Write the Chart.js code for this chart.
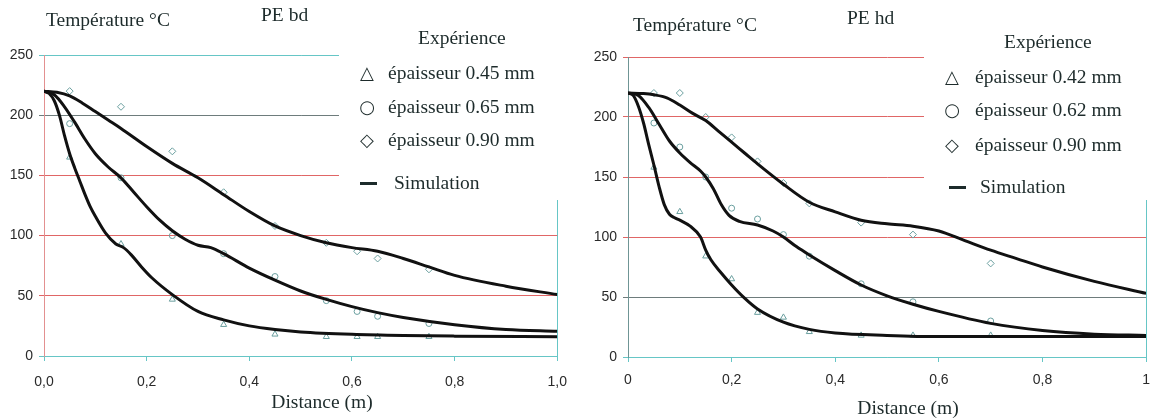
<!DOCTYPE html>
<html lang="fr">
<head>
<meta charset="utf-8">
<title>Température PE bd / PE hd</title>
<script src="https://cdn.jsdelivr.net/npm/chart.js@4.4.1/dist/chart.umd.min.js"></script>
<style>
  html, body { margin: 0; padding: 0; background: #fff; }
  body { width: 1150px; height: 419px; position: relative; overflow: hidden;
         font-family: "Liberation Serif", "DejaVu Serif", serif; color: #1d2b2b; }
  canvas { position: absolute; top: 0; }
  #chart-bd { left: 0; }
  #chart-hd { left: 580px; }
  .lbl { position: absolute; font-size: 19.5px; line-height: 22px; white-space: nowrap; }
  .center { transform: translateX(-50%); }
  .sym { position: absolute; font-family: "DejaVu Sans", sans-serif; font-size: 18px;
         line-height: 22px; width: 22px; text-align: center; }
  .dash { position: absolute; width: 17px; height: 3px; background: #1d2b2b; }
</style>
</head>
<body>
<canvas id="chart-bd" width="580" height="419"></canvas>
<canvas id="chart-hd" width="580" height="419"></canvas>

<!-- PE bd texts -->
<div class="lbl" style="left:46px;top:9px">Température °C</div>
<div class="lbl" style="left:261px;top:4px">PE bd</div>
<div class="lbl" style="left:418px;top:27px">Expérience</div>
<div class="sym" style="left:356px;top:62px">△</div>
<div class="lbl" style="left:388px;top:62px">épaisseur 0.45 mm</div>
<div class="sym" style="left:356px;top:96px">○</div>
<div class="lbl" style="left:388px;top:96px">épaisseur 0.65 mm</div>
<div class="sym" style="left:356px;top:129px">◇</div>
<div class="lbl" style="left:388px;top:129px">épaisseur 0.90 mm</div>
<div class="dash" style="left:360px;top:182px"></div>
<div class="lbl" style="left:394px;top:172px">Simulation</div>
<div class="lbl center" style="left:322px;top:391px">Distance (m)</div>

<!-- PE hd texts -->
<div class="lbl" style="left:633px;top:14px">Température °C</div>
<div class="lbl" style="left:847px;top:7px">PE hd</div>
<div class="lbl" style="left:1004px;top:31px">Expérience</div>
<div class="sym" style="left:941px;top:66px">△</div>
<div class="lbl" style="left:975px;top:66px">épaisseur 0.42 mm</div>
<div class="sym" style="left:941px;top:99px">○</div>
<div class="lbl" style="left:975px;top:99px">épaisseur 0.62 mm</div>
<div class="sym" style="left:941px;top:134px">◇</div>
<div class="lbl" style="left:975px;top:134px">épaisseur 0.90 mm</div>
<div class="dash" style="left:949px;top:186px"></div>
<div class="lbl" style="left:980px;top:176px">Simulation</div>
<div class="lbl center" style="left:908px;top:397px">Distance (m)</div>

<script>
// --- PE bd : mesures ---
var bdMesX = [0.05, 0.15, 0.25, 0.35, 0.45, 0.55, 0.61, 0.65, 0.75];
var bdMes045 = [165, 93, 47, 26, 18, 16, 16, 16, 16];
var bdMes065 = [193, 148, 100, 85, 66, 46, 37, 33, 27];
var bdMes090 = [220, 207, 170, 136, 108, 94, 87, 81, 72];

// --- PE bd : simulation ---
var bdSim045X = [0, 0.01, 0.02, 0.03, 0.04, 0.05, 0.06, 0.07, 0.08, 0.09, 0.1, 0.12, 0.14, 0.155, 0.17, 0.19, 0.21, 0.25, 0.3, 0.35, 0.4, 0.45, 0.5, 0.6, 0.7, 0.8, 1.0];
var bdSim045 = [220, 218, 212, 200, 183, 168, 156, 145, 134, 124, 116, 102, 93, 90, 84, 74, 65, 51, 37, 30, 25, 22, 20, 18, 17, 16.5, 16];
var bdSim065X = [0, 0.02, 0.04, 0.06, 0.08, 0.1, 0.125, 0.15, 0.175, 0.2, 0.225, 0.25, 0.275, 0.3, 0.325, 0.35, 0.4, 0.45, 0.5, 0.55, 0.6, 0.65, 0.7, 0.8, 0.9, 1.0];
var bdSim065 = [220, 217, 207, 194, 180, 168, 157, 148, 136, 124, 113, 104, 97, 92, 90, 85, 73, 63, 54, 47, 41, 36, 32, 26, 22, 20.5];
var bdSim090X = [0, 0.025, 0.05, 0.075, 0.1, 0.125, 0.15, 0.2, 0.25, 0.3, 0.35, 0.4, 0.45, 0.5, 0.55, 0.6, 0.65, 0.7, 0.75, 0.8, 0.9, 1.0];
var bdSim090 = [220, 219, 216, 210, 203, 196, 189, 174, 160, 148, 134, 120, 108, 100, 94, 90, 87, 81, 74, 67, 58, 51];

// --- PE hd : mesures ---
var hdMesX = [0.05, 0.1, 0.15, 0.2, 0.25, 0.3, 0.35, 0.45, 0.55, 0.7];
var hdMes042 = [158, 121, 84, 65, 37, 33, 21, 18, 18, 18];
var hdMes062 = [195, 175, 150, 124, 115, 102, 84, 61, 46, 30];
var hdMes090 = [220, 220, 200, 183, 163, 145, 128, 112, 102, 78];

// --- PE hd : simulation ---
var hdSim042X = [0, 0.01, 0.02, 0.03, 0.04, 0.05, 0.06, 0.07, 0.08, 0.09, 0.1, 0.12, 0.14, 0.15, 0.16, 0.18, 0.2, 0.225, 0.25, 0.3, 0.35, 0.4, 0.5, 0.6, 0.8, 1.0];
var hdSim042 = [220, 218, 209, 195, 177, 160, 142, 127, 119, 116, 114, 109, 100, 89, 81, 70, 60, 49, 40, 29, 23, 20, 18, 17, 17, 17];
var hdSim062X = [0, 0.02, 0.04, 0.06, 0.08, 0.1, 0.12, 0.14, 0.15, 0.165, 0.18, 0.195, 0.215, 0.25, 0.28, 0.3, 0.325, 0.35, 0.4, 0.45, 0.5, 0.55, 0.6, 0.7, 0.8, 0.9, 1.0];
var hdSim062 = [220, 218, 208, 194, 180, 170, 162, 155, 150, 140, 127, 118, 113, 110, 105, 100, 92, 85, 72, 60, 51, 44, 38, 28, 22, 19, 18];
var hdSim090X = [0, 0.03, 0.05, 0.075, 0.1, 0.125, 0.15, 0.175, 0.2, 0.225, 0.25, 0.3, 0.35, 0.4, 0.45, 0.5, 0.55, 0.6, 0.65, 0.7, 0.75, 0.8, 0.9, 1.0];
var hdSim090 = [220, 219.5, 218.5, 216, 210, 203, 197, 188, 179, 170, 161, 144, 129, 121, 114, 111, 109, 105, 97, 89, 82, 75, 63, 53];

// --- axes ---
var bdXLabels = ["0,0", "0,2", "0,4", "0,6", "0,8", "1,0"];
var hdXLabels = ["0", "0,2", "0,4", "0,6", "0,8", "1"];

var TEAL = "#66c6c6";
var RED = "#e06666";
var GRAY = "#6e7c7c";
var bdGridColors = { 0: TEAL, 50: RED, 100: RED, 150: RED, 200: GRAY, 250: TEAL };
var hdGridColors = { 0: TEAL, 50: GRAY, 100: RED, 150: RED, 200: RED, 250: RED };

// white box behind the legend, hides the top right of the grid
var legendMask = {
  id: "legendMask",
  beforeDatasetsDraw: function (chart, args, opts) {
    var ctx = chart.ctx;
    ctx.save();
    ctx.fillStyle = "#fff";
    ctx.fillRect(opts.left, 0, chart.width - opts.left, opts.bottom);
    ctx.restore();
  }
};

function toPoints(xs, ys) {
  return xs.map(function (x, i) { return { x: x, y: ys[i] }; });
}

function buildChart(canvasId, cfg) {
  var datasets = [];
  cfg.sims.forEach(function (s) {
    datasets.push({
      data: toPoints(s[0], s[1]),
      showLine: true,
      borderColor: "#111",
      borderWidth: 3,
      pointRadius: 0,
      cubicInterpolationMode: "monotone"
    });
  });
  var styles = ["triangle", "circle", "rectRot"];
  cfg.mesures.forEach(function (ys, i) {
    datasets.push({
      data: toPoints(cfg.mesX, ys),
      showLine: false,
      pointStyle: styles[i],
      pointRadius: i === 1 ? 3 : 3.5,
      pointBorderWidth: 1,
      pointBorderColor: "#6a9f9f",
      pointBackgroundColor: "rgba(255,255,255,0)"
    });
  });

  new Chart(document.getElementById(canvasId), {
    type: "scatter",
    data: { datasets: datasets },
    options: {
      responsive: false,
      animation: false,
      events: [],
      layout: { padding: { left: 0, top: cfg.top, right: cfg.right, bottom: 0 } },
      plugins: {
        legend: { display: false },
        tooltip: { enabled: false },
        legendMask: { left: cfg.maskLeft, bottom: 200 }
      },
      scales: {
        x: {
          type: "linear",
          min: 0,
          max: 1,
          afterFit: function (s) { s.height = cfg.xHeight; },
          ticks: {
            stepSize: 0.2,
            padding: cfg.xPad,
            maxRotation: 0,
            autoSkip: false,
            color: "#2a2a2a",
            font: { family: "Liberation Sans", size: 14 },
            callback: function (v, i) { return cfg.xLabels[i]; }
          },
          grid: {
            color: function (c) {
              return c.tick && Math.abs(c.tick.value - 1) < 1e-6 ? TEAL : "rgba(0,0,0,0)";
            },
            tickColor: TEAL,
            tickLength: 5
          },
          border: { color: TEAL }
        },
        y: {
          min: 0,
          max: 250,
          afterFit: function (s) { s.width = cfg.yWidth; },
          ticks: {
            stepSize: 50,
            padding: 6,
            color: "#2a2a2a",
            font: { family: "Liberation Sans", size: 14 }
          },
          grid: {
            color: function (c) { return c.tick ? cfg.gridColors[c.tick.value] : GRAY; },
            tickLength: 5
          },
          border: { color: cfg.yBorder }
        }
      }
    },
    plugins: [legendMask]
  });
}

document.addEventListener("DOMContentLoaded", function () {
  // PE bd
  buildChart("chart-bd", {
    mesX: bdMesX,
    mesures: [bdMes045, bdMes065, bdMes090],
    sims: [[bdSim045X, bdSim045], [bdSim065X, bdSim065], [bdSim090X, bdSim090]],
    xLabels: bdXLabels,
    gridColors: bdGridColors,
    yBorder: "#e39090",
    top: 55,
    right: 13,
    xHeight: 63,
    yWidth: 44,
    xPad: 13,
    maskLeft: 339
  });

  // PE hd
  buildChart("chart-hd", {
    mesX: hdMesX,
    mesures: [hdMes042, hdMes062, hdMes090],
    sims: [[hdSim042X, hdSim042], [hdSim062X, hdSim062], [hdSim090X, hdSim090]],
    xLabels: hdXLabels,
    gridColors: hdGridColors,
    yBorder: "#6f9595",
    top: 57,
    right: 13,
    xHeight: 62,
    yWidth: 48,
    xPad: 10,
    maskLeft: 344
  });
});
</script>
</body>
</html>
